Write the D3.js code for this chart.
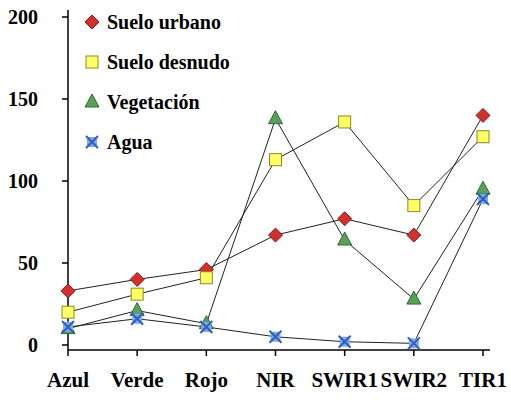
<!DOCTYPE html>
<html>
<head>
<meta charset="UTF-8">
<script src="https://d3js.org/d3.v7.min.js"></script>
<style>
body { margin: 0; background: #fff; font-family: "Liberation Serif", "Times New Roman", serif; }
text { font-weight: bold; }
</style>
</head>
<body>
<svg width="511" height="400"></svg>
<script>
const bands = ["Azul", "Verde", "Rojo", "NIR", "SWIR1", "SWIR2", "TIR1"];
const urbano = [33, 40, 46, 67, 77, 67, 140];
const desnudo = [20, 31, 41, 113, 136, 85, 127];
const vegetacion = [10, 21, 13, 138, 64, 28, 95];
const agua = [11, 16, 11, 5, 2, 1, 89];
const yTicks = [0, 50, 100, 150, 200];

const series = [
  { name: "Suelo urbano", values: urbano, shape: "diamond", fill: "#d0312d", stroke: "#8b1a1a" },
  { name: "Suelo desnudo", values: desnudo, shape: "square", fill: "#ffff66", stroke: "#8a8a20" },
  { name: "Vegetación", values: vegetacion, shape: "triangle", fill: "#5aa05a", stroke: "#2f6a2f" },
  { name: "Agua", values: agua, shape: "x", fill: "#7fa8e8", stroke: "#2f5fbf" }
];

const svg = d3.select("svg");
const x = d3.scalePoint().domain(bands).range([68, 483]);
const y = d3.scaleLinear().domain([0, 200]).range([345, 17]);

// axes
svg.append("line").attr("x1", 68).attr("x2", 68).attr("y1", 10).attr("y2", 350).attr("stroke", "#000").attr("stroke-width", 1.5);
svg.append("line").attr("x1", 68).attr("x2", 490).attr("y1", 350).attr("y2", 350).attr("stroke", "#000").attr("stroke-width", 1.5);
svg.selectAll(".yt").data(yTicks).enter().append("line")
  .attr("x1", 62).attr("x2", 68).attr("y1", d => y(d)).attr("y2", d => y(d)).attr("stroke", "#000").attr("stroke-width", 1.5);
svg.selectAll(".yl").data(yTicks).enter().append("text")
  .attr("x", 38).attr("y", d => y(d) + 7).attr("text-anchor", "end").style("font-size", "20px").text(d => d);
svg.selectAll(".xt").data(bands).enter().append("line")
  .attr("x1", d => x(d)).attr("x2", d => x(d)).attr("y1", 350).attr("y2", 356).attr("stroke", "#000").attr("stroke-width", 1.5);
svg.selectAll(".xl").data(bands).enter().append("text")
  .attr("x", d => x(d)).attr("y", 387).attr("text-anchor", "middle").style("font-size", "21px").text(d => d);

function marker(g, shape, fill, stroke) {
  if (shape === "diamond") g.append("path").attr("d", "M0,-7L7,0L0,7L-7,0Z").attr("fill", fill).attr("stroke", stroke);
  else if (shape === "square") g.append("rect").attr("x", -6).attr("y", -6).attr("width", 12).attr("height", 12).attr("fill", fill).attr("stroke", stroke);
  else if (shape === "triangle") g.append("path").attr("d", "M0,-8L7,5L-7,5Z").attr("fill", fill).attr("stroke", stroke);
  else {
    g.append("rect").attr("x", -5).attr("y", -5).attr("width", 10).attr("height", 10).attr("fill", fill).attr("stroke", "none");
    g.append("path").attr("d", "M-6,-6L6,6M6,-6L-6,6").attr("stroke", stroke).attr("stroke-width", 2);
  }
}

const line = d3.line().x((d, i) => x(bands[i])).y(d => y(d));
series.forEach(s => {
  svg.append("path").attr("d", line(s.values)).attr("fill", "none").attr("stroke", "#222").attr("stroke-width", 1);
});
series.forEach(s => {
  s.values.forEach((v, i) => {
    const g = svg.append("g").attr("transform", `translate(${x(bands[i])},${y(v)})`);
    marker(g, s.shape, s.fill, s.stroke);
  });
});

// legend
series.forEach((s, i) => {
  const ly = 22 + i * 40;
  const g = svg.append("g").attr("transform", `translate(92,${ly})`);
  marker(g, s.shape, s.fill, s.stroke);
  svg.append("text").attr("x", 107).attr("y", ly + 7).style("font-size", "20px").text(s.name);
});
</script>
</body>
</html>
